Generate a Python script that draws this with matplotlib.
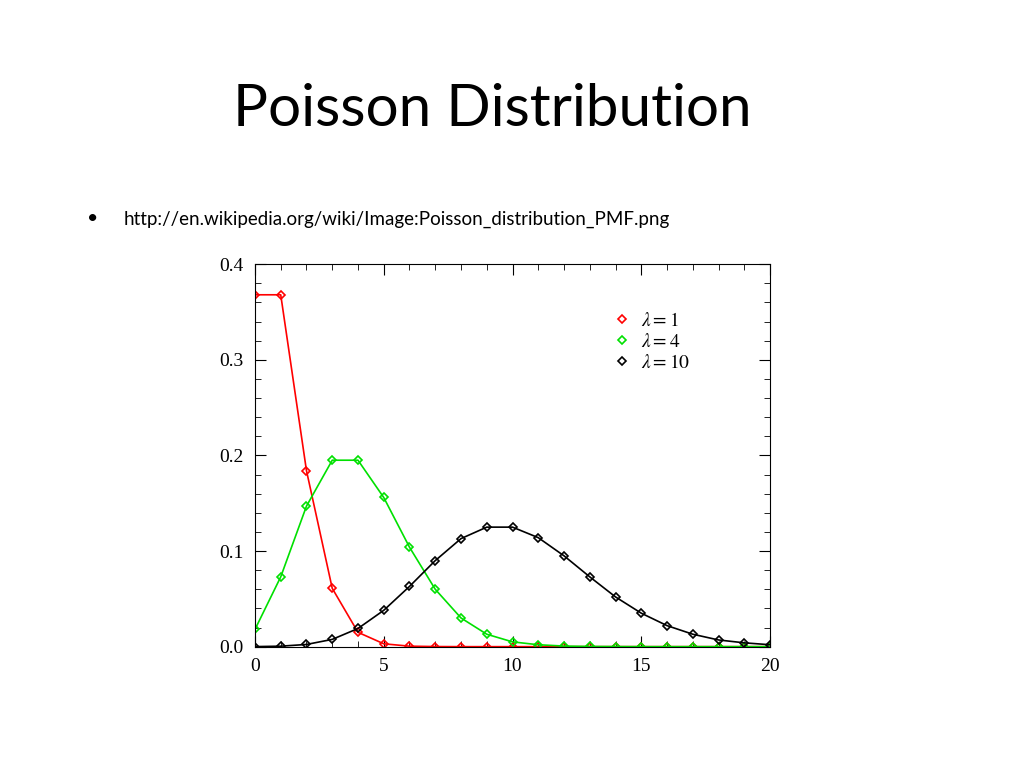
import matplotlib
matplotlib.use("Agg")
import matplotlib.pyplot as plt
from matplotlib.ticker import MultipleLocator
from matplotlib.lines import Line2D

plt.rcParams["mathtext.fontset"] = "stix"

k = list(range(21))
lam1 = [0.368, 0.368, 0.184, 0.061, 0.015, 0.003, 0.0005, 0.0001, 0, 0, 0, 0, 0, 0, 0, 0, 0, 0, 0, 0, 0]
lam4 = [0.018, 0.073, 0.147, 0.195, 0.195, 0.156, 0.104, 0.060, 0.030, 0.013, 0.005, 0.002, 0.0006,
        0.0002, 0.0001, 0, 0, 0, 0, 0, 0]
lam10 = [0.00005, 0.0005, 0.0023, 0.0076, 0.019, 0.038, 0.063, 0.090, 0.113, 0.125, 0.125, 0.114,
         0.095, 0.073, 0.052, 0.035, 0.022, 0.013, 0.007, 0.004, 0.002]
labels = [r"$\lambda = 1$", r"$\lambda = 4$", r"$\lambda = 10$"]
colors = ["#ff0000", "#00e000", "#000000"]

fig = plt.figure(figsize=(10.24, 7.68), dpi=100)
fig.text(0.481, 0.857, "Poisson Distribution", ha="center", va="center", fontsize=42, family="Lato")
fig.text(0.085, 0.715, "•", ha="left", va="center", fontsize=14, family="Lato")
fig.text(0.121, 0.715, "http://en.wikipedia.org/wiki/Image:Poisson_distribution_PMF.png",
         ha="left", va="center", fontsize=13.5, family="Lato")

ax = fig.add_axes([0.249, 0.158, 0.503, 0.498])
handles = []
for y, lab, c in zip([lam1, lam4, lam10], labels, colors):
    ax.plot(k, y, color=c, lw=1.2, marker="D", ms=4, mfc="none", mec=c, mew=1.2)
    handles.append(Line2D([], [], ls="none", marker="D", ms=4, mfc="none", mec=c, mew=1.2, label=lab))
ax.set_xlim(0, 20)
ax.set_ylim(0, 0.4)
ax.xaxis.set_minor_locator(MultipleLocator(1))
ax.yaxis.set_minor_locator(MultipleLocator(0.02))
ax.tick_params(which="both", direction="in", top=True, right=True, labelsize=14)
ax.tick_params(which="major", length=8, pad=8)
ax.tick_params(which="minor", length=4)
ax.set_xticks([0, 5, 10, 15, 20], ["0", "5", "10", "15", "20"])
ax.set_yticks([0, 0.1, 0.2, 0.3, 0.4], ["0.0", "0.1", "0.2", "0.3", "0.4"])
for t in ax.get_xticklabels() + ax.get_yticklabels():
    t.set_family("Liberation Serif")
ax.legend(handles=handles, loc="upper right", bbox_to_anchor=(0.88, 0.92), frameon=False,
          handlelength=0.8, handletextpad=0.6,
          prop={"family": "Liberation Serif", "size": 14}, labelspacing=0.15)
fig.savefig("out.png", dpi=100)
